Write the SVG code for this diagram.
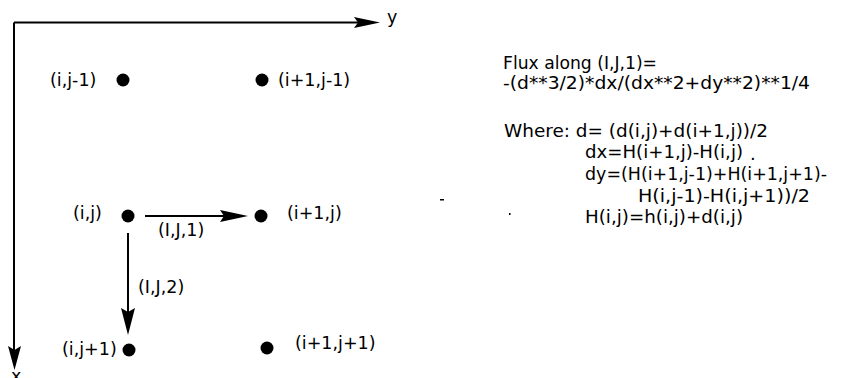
<svg xmlns="http://www.w3.org/2000/svg" width="847" height="378" viewBox="0 0 847 378">
  <style>
    text { font-family: "DejaVu Sans", "Liberation Sans", sans-serif; font-size: 17.5px; fill: #000; }
    .f { font-size: 18px; }
    .dot { fill: #000; }
    .ln { stroke: #000; stroke-width: 2; fill: none; }
    .head { fill: #000; }
  </style>
  <rect x="0" y="0" width="847" height="378" fill="#fff"/>

  <g id="axes">
    <path class="ln" d="M14,22.5 H358 M14,22.5 V350"/>
    <polygon class="head" points="354,17 380,22.5 354,28 358,22.5"/>
    <polygon class="head" points="8,346 14.5,370 21,346 14.5,350"/>
    <text x="387" y="22.5">y</text>
    <text x="11" y="382">x</text>
  </g>

  <g id="connectors">
    <line class="ln" x1="145" y1="216" x2="224" y2="216"/>
    <polygon class="head" points="220,210 248,216 220,222 224,216"/>
    <line class="ln" x1="128" y1="233" x2="128" y2="312"/>
    <polygon class="head" points="121,308 128,335 135,308 128,312"/>
    <text x="158" y="236">(I,J,1)</text>
    <text x="138" y="293">(I,J,2)</text>
  </g>

  <g id="node-i-jm1"><circle class="dot" cx="123" cy="80" r="6.5"/><text x="50" y="86">(i,j-1)</text></g>
  <g id="node-ip1-jm1"><circle class="dot" cx="262" cy="80" r="6.5"/><text x="278" y="86">(i+1,j-1)</text></g>
  <g id="node-i-j"><circle class="dot" cx="128" cy="216" r="6.5"/><text x="73" y="219">(i,j)</text></g>
  <g id="node-ip1-j"><circle class="dot" cx="261" cy="216" r="6.5"/><text x="287" y="219">(i+1,j)</text></g>
  <g id="node-i-jp1"><circle class="dot" cx="129" cy="350" r="6.5"/><text x="62" y="355">(i,j+1)</text></g>
  <g id="node-ip1-jp1"><circle class="dot" cx="267" cy="348" r="6.5"/><text x="295" y="349">(i+1,j+1)</text></g>

  <g id="formula">
    <text class="f" x="503" y="69" textLength="154" lengthAdjust="spacingAndGlyphs">Flux along (I,J,1)=</text>
    <text class="f" x="503" y="89" textLength="307" lengthAdjust="spacingAndGlyphs">-(d**3/2)*dx/(dx**2+dy**2)**1/4</text>
    <text class="f" x="504" y="137" textLength="264" lengthAdjust="spacingAndGlyphs">Where: d= (d(i,j)+d(i+1,j))/2</text>
    <text class="f" x="585" y="158" textLength="158" lengthAdjust="spacingAndGlyphs">dx=H(i+1,j)-H(i,j)</text>
    <text class="f" x="750" y="160">.</text>
    <text class="f" x="585" y="180" textLength="242" lengthAdjust="spacingAndGlyphs">dy=(H(i+1,j-1)+H(i+1,j+1)-</text>
    <text class="f" x="638" y="202" textLength="172" lengthAdjust="spacingAndGlyphs">H(i,j-1)-H(i,j+1))/2</text>
    <text class="f" x="585" y="223" textLength="158" lengthAdjust="spacingAndGlyphs">H(i,j)=h(i,j)+d(i,j)</text>
  </g>

  <g id="specks">
    <rect x="440" y="199" width="4" height="1.5" fill="#000"/>
    <rect x="509" y="213" width="1.5" height="2" fill="#000"/>
  </g>
</svg>
